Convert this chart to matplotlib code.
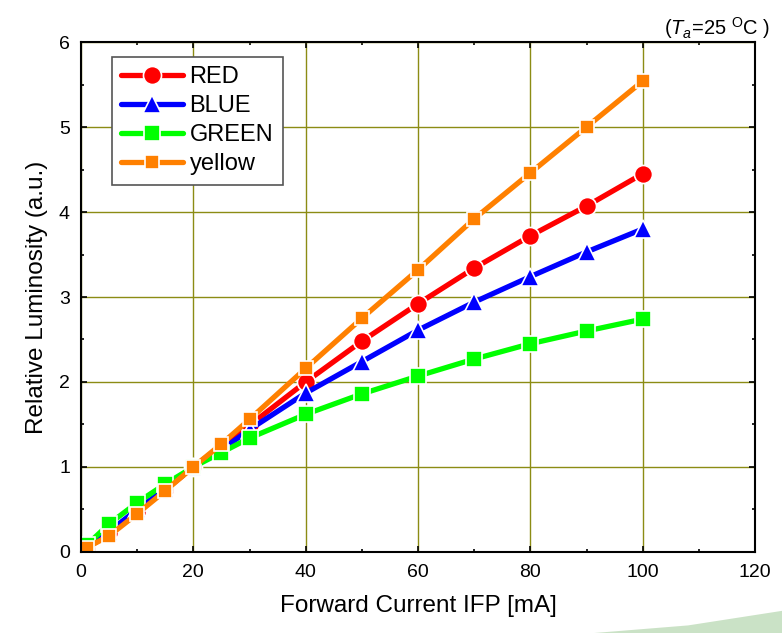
import numpy as np
import matplotlib
matplotlib.use("Agg")
import matplotlib.pyplot as plt
from matplotlib.patches import Polygon

plt.rcParams["font.family"] = ["Liberation Sans", "DejaVu Sans"]
plt.rcParams["mathtext.fontset"] = "custom"
plt.rcParams["mathtext.rm"] = "Liberation Sans"
plt.rcParams["mathtext.it"] = "Liberation Sans:italic"

# Forward current (mA) and relative luminosity per colour
current = [1, 5, 10, 15, 20, 25, 30, 40, 50, 60, 70, 80, 90, 100]
red = [0.04, 0.22, 0.47, 0.73, 1.0, 1.25, 1.49, 2.0, 2.48, 2.92, 3.34, 3.72, 4.07, 4.45]
blue = [0.05, 0.24, 0.50, 0.74, 1.0, 1.20, 1.44, 1.87, 2.24, 2.61, 2.94, 3.24, 3.53, 3.80]
green = [0.08, 0.33, 0.58, 0.80, 1.0, 1.17, 1.34, 1.62, 1.86, 2.07, 2.27, 2.45, 2.60, 2.74]
yellow = [0.05, 0.19, 0.45, 0.72, 1.0, 1.27, 1.56, 2.16, 2.75, 3.32, 3.92, 4.46, 5.0, 5.54]

series = [
    ("RED", red, "#ff0000", "o", 13),
    ("BLUE", blue, "#0000ff", "^", 13),
    ("GREEN", green, "#00ff00", "s", 11.5),
    ("yellow", yellow, "#ff8000", "s", 10),
]

fig = plt.figure(figsize=(7.82, 6.33), dpi=100)
ax = fig.add_axes([0.1036, 0.128, 0.8619, 0.8056])

for label, vals, col, mk, ms in series:
    ax.plot(current, vals, color=col, lw=3.8, marker=mk, ms=ms,
            markeredgecolor="white", markeredgewidth=1.2, label=label,
            solid_capstyle="round")

ax.set_xlim(0, 120)
ax.set_ylim(0, 6)
ax.set_xticks(np.arange(0, 121, 20))
ax.set_yticks(np.arange(0, 7, 1))
ax.set_xticks(np.arange(0, 121, 10), minor=True)
ax.set_yticks(np.arange(0, 6.1, 0.5), minor=True)
ax.tick_params(which="both", direction="in", top=True, right=True,
               labelsize=14, width=1.2)
ax.tick_params(axis="x", which="major", pad=9)
ax.tick_params(axis="y", which="major", pad=8)
ax.tick_params(which="major", length=4)
ax.tick_params(which="minor", length=2.5)
ax.grid(True, which="major", color="#8c8c14", lw=1.0)
ax.set_axisbelow(True)
for sp in ax.spines.values():
    sp.set_linewidth(1.5)

ax.set_xlabel("Forward Current IFP [mA]", fontsize=17.5, labelpad=10)
ax.set_ylabel("Relative Luminosity (a.u.)", fontsize=17.5, labelpad=8)

leg = ax.legend(loc="upper left", bbox_to_anchor=(0.035, 0.985), fontsize=17,
                fancybox=False, edgecolor="#555555", framealpha=1,
                handlelength=2.6, handletextpad=0.3, borderpad=0.4,
                labelspacing=0.3, borderaxespad=0.3)
leg.get_frame().set_linewidth(1.2)

fig.text(0.985, 0.955, r"($T_a$=25 $^{\rm O}$C )", ha="right", va="center",
         fontsize=14.5)

# faint swoosh in the lower right corner
swoosh = Polygon([[0.76, 0.0], [1.0, 0.0], [1.0, 0.035], [0.88, 0.012]],
                 closed=True, transform=fig.transFigure, color="#a8cfa0",
                 alpha=0.6, lw=0)
fig.patches.append(swoosh)

fig.savefig("out.png", dpi=100)
